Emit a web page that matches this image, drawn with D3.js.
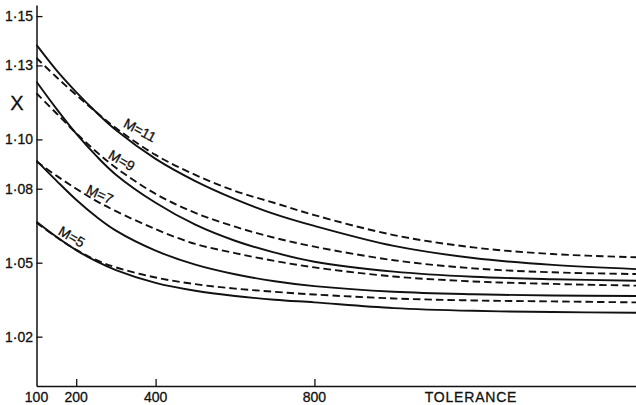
<!DOCTYPE html>
<html>
<head>
<meta charset="utf-8">
<script src="https://cdn.jsdelivr.net/npm/d3@7"></script>
<style>
  html, body { margin: 0; padding: 0; background: #fff; }
  svg { display: block; }
  text { font-family: "Liberation Sans", Arial, sans-serif; fill: #111; stroke: #111; stroke-width: 0.3px; }
</style>
</head>
<body>
<svg id="chart" width="636" height="405"></svg>
<script>
// Tolerance values (x) at which each curve is sampled
const tolerance = [100, 150, 200, 250, 300, 400, 500, 600, 700, 800, 1000, 1200, 1400, 1610];

// X for each order M: solid and dashed curves
const m11Solid  = [1.1383, 1.1281, 1.1192, 1.1111, 1.1038, 1.0921, 1.0831, 1.0758, 1.0697, 1.0649, 1.0568, 1.0519, 1.0491, 1.0474];
const m11Dashed = [1.1330, 1.1253, 1.1180, 1.1111, 1.1046, 1.0937, 1.0856, 1.0791, 1.0742, 1.0693, 1.0612, 1.0562, 1.0535, 1.0522];
const m9Solid   = [1.1234, 1.1125, 1.1023, 1.0934, 1.0857, 1.0743, 1.0654, 1.0589, 1.0541, 1.0504, 1.0464, 1.0443, 1.0433, 1.0427];
const m9Dashed  = [1.1187, 1.1106, 1.1025, 1.0951, 1.0885, 1.0779, 1.0702, 1.0646, 1.0601, 1.0565, 1.0510, 1.0477, 1.0461, 1.0454];
const m7Solid   = [1.0914, 1.0833, 1.0755, 1.0687, 1.0630, 1.0549, 1.0492, 1.0453, 1.0425, 1.0405, 1.0382, 1.0372, 1.0367, 1.0365];
const m7Dashed  = [1.0910, 1.0853, 1.0800, 1.0751, 1.0709, 1.0636, 1.0576, 1.0539, 1.0507, 1.0481, 1.0444, 1.0424, 1.0414, 1.0407];
const m5Solid   = [1.0666, 1.0605, 1.0551, 1.0506, 1.0470, 1.0418, 1.0386, 1.0365, 1.0350, 1.0339, 1.0316, 1.0305, 1.0300, 1.0297];
const m5Dashed  = [1.0662, 1.0604, 1.0552, 1.0511, 1.0481, 1.0440, 1.0413, 1.0395, 1.0382, 1.0371, 1.0355, 1.0347, 1.0343, 1.0339];

const curveNames = ["M=11", "M=9", "M=7", "M=5"];
const xTicks = [100, 200, 400, 800];
const yTicks = [1.02, 1.05, 1.08, 1.10, 1.13, 1.15];

const series = [
  { name: "M=11", solid: m11Solid, dashed: m11Dashed },
  { name: "M=9",  solid: m9Solid,  dashed: m9Dashed },
  { name: "M=7",  solid: m7Solid,  dashed: m7Dashed },
  { name: "M=5",  solid: m5Solid,  dashed: m5Dashed }
];

// Curve label placement (tolerance, X, rotation in degrees)
const labelPlacement = {
  "M=11": { t: 361, v: 1.1038, angle: 28 },
  "M=9":  { t: 315, v: 1.0915, angle: 30 },
  "M=7":  { t: 260, v: 1.0778, angle: 25 },
  "M=5":  { t: 189, v: 1.0606, angle: 30 }
};

const svg = d3.select("#chart");

const x = d3.scaleLinear().domain([100, 1610]).range([36.5, 636]);
const y = d3.scaleLinear().domain([1.0, 1.1545]).range([386, 5]);

const fmt = v => d3.format(".2f")(v).replace(".", "\u00B7");

// Y axis: ticks point inward
const yAxis = svg.append("g")
  .attr("transform", `translate(${x(100)},0)`)
  .call(d3.axisRight(y).tickValues(yTicks).tickSize(6).tickSizeOuter(0).tickFormat(""));
yAxis.select(".domain").attr("stroke", "#111").attr("stroke-width", 1.5);
yAxis.selectAll(".tick line").attr("stroke", "#111").attr("stroke-width", 1.3);

svg.append("g").selectAll("text")
  .data(yTicks)
  .join("text")
  .attr("x", x(100) - 3.5)
  .attr("y", d => y(d))
  .attr("dy", "0.36em")
  .attr("text-anchor", "end")
  .attr("font-size", 14)
  .text(fmt);

// X axis: ticks point upward into the plot
const xAxis = svg.append("g")
  .attr("transform", `translate(0,${y(1.0)})`)
  .call(d3.axisTop(x).tickValues(xTicks).tickSize(7).tickSizeOuter(0).tickFormat(""));
xAxis.select(".domain").attr("stroke", "#111").attr("stroke-width", 1.5);
xAxis.selectAll(".tick line").attr("stroke", "#111").attr("stroke-width", 1.3);
xAxis.selectAll(".tick").filter(d => d === 100).select("line").remove();

svg.append("g").selectAll("text")
  .data(xTicks)
  .join("text")
  .attr("x", d => x(d))
  .attr("y", 402)
  .attr("text-anchor", "middle")
  .attr("font-size", 14)
  .text(d => d);

svg.append("text")
  .attr("x", 471)
  .attr("y", 402)
  .attr("text-anchor", "middle")
  .attr("font-size", 14)
  .attr("letter-spacing", "0.8px")
  .text("TOLERANCE");

svg.append("text")
  .attr("x", 17)
  .attr("y", 110)
  .attr("text-anchor", "middle")
  .attr("font-size", 20)
  .text("X");

// Curves
const line = d3.line()
  .x((d, i) => x(tolerance[i]))
  .y(d => y(d))
  .curve(d3.curveCatmullRom.alpha(0.5));

const g = svg.append("g").attr("fill", "none").attr("stroke", "#111").attr("stroke-width", 1.9);
series.forEach(s => {
  g.append("path").attr("d", line(s.solid));
  g.append("path").attr("d", line(s.dashed)).attr("stroke-dasharray", "7.5,4");
});

// Curve labels
svg.append("g").selectAll("text")
  .data(curveNames)
  .join("text")
  .attr("transform", d => {
    const p = labelPlacement[d];
    return `translate(${x(p.t)},${y(p.v)}) rotate(${p.angle})`;
  })
  .attr("text-anchor", "middle")
  .attr("dy", "0.36em")
  .attr("font-size", 14)
  .text(d => d);
</script>
</body>
</html>
